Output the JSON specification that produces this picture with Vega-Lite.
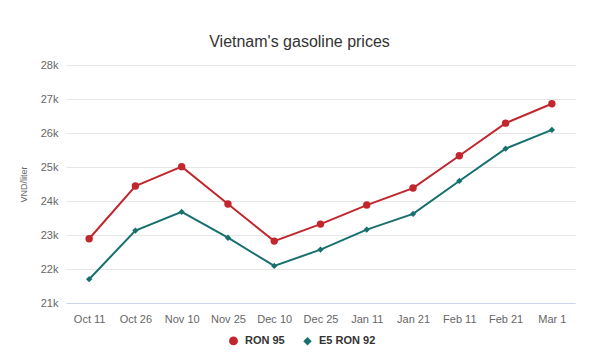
{
  "$schema": "https://vega.github.io/schema/vega-lite/v6.json",
  "autosize": "none",
  "width": 509,
  "height": 238,
  "padding": {"left": 66, "top": 65, "right": 25, "bottom": 56},
  "background": "white",
  "config": {
    "font": "Liberation Sans",
    "view": {"stroke": null}
  },
  "title": {
    "text": "Vietnam's gasoline prices",
    "fontSize": 16,
    "fontWeight": "normal",
    "color": "#333333",
    "font": "Liberation Sans",
    "anchor": "middle",
    "dx": -21,
    "offset": 9
  },
  "data": {
    "values": [
      {"date": "Oct 11", "series": "RON 95", "price": 22890},
      {"date": "Oct 26", "series": "RON 95", "price": 24440},
      {"date": "Nov 10", "series": "RON 95", "price": 25010},
      {"date": "Nov 25", "series": "RON 95", "price": 23910},
      {"date": "Dec 10", "series": "RON 95", "price": 22820},
      {"date": "Dec 25", "series": "RON 95", "price": 23320},
      {"date": "Jan 11", "series": "RON 95", "price": 23880},
      {"date": "Jan 21", "series": "RON 95", "price": 24380},
      {"date": "Feb 11", "series": "RON 95", "price": 25330},
      {"date": "Feb 21", "series": "RON 95", "price": 26290},
      {"date": "Mar 1", "series": "RON 95", "price": 26860},
      {"date": "Oct 11", "series": "E5 RON 92", "price": 21700},
      {"date": "Oct 26", "series": "E5 RON 92", "price": 23130},
      {"date": "Nov 10", "series": "E5 RON 92", "price": 23680},
      {"date": "Nov 25", "series": "E5 RON 92", "price": 22920},
      {"date": "Dec 10", "series": "E5 RON 92", "price": 22090},
      {"date": "Dec 25", "series": "E5 RON 92", "price": 22570},
      {"date": "Jan 11", "series": "E5 RON 92", "price": 23160},
      {"date": "Jan 21", "series": "E5 RON 92", "price": 23620},
      {"date": "Feb 11", "series": "E5 RON 92", "price": 24590},
      {"date": "Feb 21", "series": "E5 RON 92", "price": 25540},
      {"date": "Mar 1", "series": "E5 RON 92", "price": 26090}
    ]
  },
  "encoding": {
    "x": {
      "field": "date",
      "type": "ordinal",
      "sort": null,
      "scale": {"type": "point", "padding": 0.5},
      "axis": {
        "title": null,
        "labelAngle": 0,
        "labelFontSize": 11,
        "labelColor": "#666666",
        "labelPadding": 10,
        "domainColor": "#ccd6eb",
        "ticks": false,
        "grid": false
      }
    },
    "y": {
      "field": "price",
      "type": "quantitative",
      "scale": {"domain": [21000, 28000], "nice": false, "zero": false},
      "axis": {
        "title": "VND/liter",
        "titleFontSize": 9,
        "titleFontWeight": "normal",
        "titleColor": "#666666",
        "titlePadding": 12,
        "labelExpr": "datum.value / 1000 + 'k'",
        "labelFontSize": 11,
        "labelColor": "#666666",
        "labelPadding": 8,
        "labelOverlap": false,
        "values": [21000, 22000, 23000, 24000, 25000, 26000, 27000, 28000],
        "ticks": false,
        "domain": false,
        "gridColor": "#e6e6e6"
      }
    },
    "color": {
      "field": "series",
      "type": "nominal",
      "sort": ["RON 95", "E5 RON 92"],
      "scale": {"domain": ["RON 95", "E5 RON 92"], "range": ["#c1272d", "#17706e"]},
      "legend": {
        "title": null,
        "orient": "none",
        "direction": "horizontal",
        "legendX": 162,
        "legendY": 270,
        "labelFontSize": 11,
        "labelFontWeight": "bold",
        "labelColor": "#333333",
        "symbolSize": 55,
        "columnPadding": 16,
        "labelOffset": 6
      }
    }
  },
  "layer": [
    {
      "mark": {"type": "line", "strokeWidth": 2}
    },
    {
      "mark": {"type": "point", "filled": true, "opacity": 1},
      "encoding": {
        "shape": {
          "field": "series",
          "type": "nominal",
          "sort": ["RON 95", "E5 RON 92"],
          "scale": {"domain": ["RON 95", "E5 RON 92"], "range": ["circle", "diamond"]},
          "legend": {
            "title": null,
            "orient": "none",
            "direction": "horizontal",
            "legendX": 162,
            "legendY": 270,
            "labelFontSize": 11,
            "labelFontWeight": "bold",
            "labelColor": "#333333",
            "symbolSize": 55,
            "columnPadding": 16,
            "labelOffset": 6
          }
        },
        "size": {
          "field": "series",
          "type": "nominal",
          "scale": {"domain": ["RON 95", "E5 RON 92"], "range": [55, 40]},
          "legend": null
        }
      }
    }
  ]
}
